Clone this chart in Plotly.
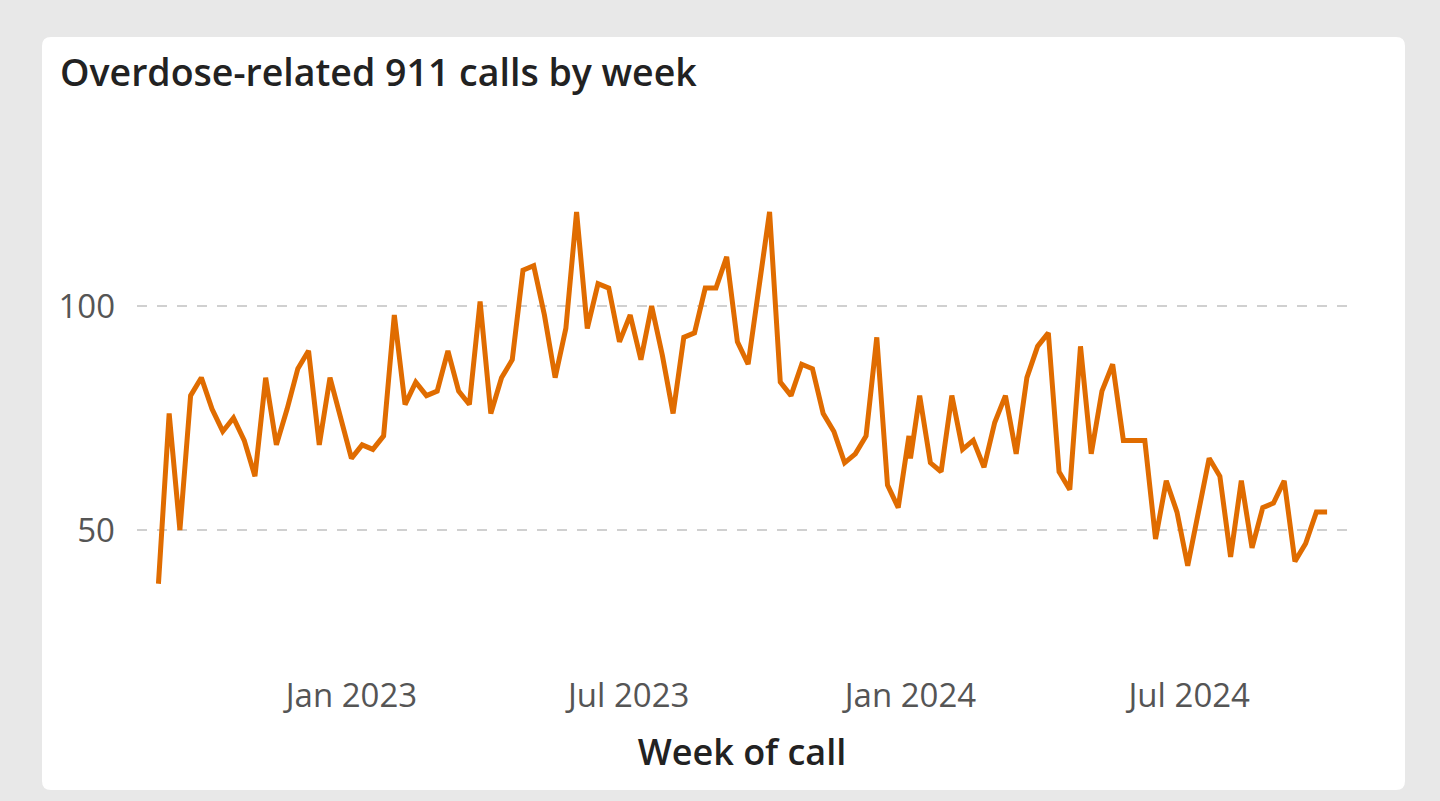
import pandas as pd
import plotly.graph_objects as go

# ---- data ----
weeks_2022_2023 = pd.date_range("2022-08-28", "2023-12-31", freq="7D")
weeks_split = pd.to_datetime(["2024-01-01"])
weeks_2024 = pd.date_range("2024-01-07", periods=39, freq="7D")
week_of_call = list(weeks_2022_2023) + list(weeks_split) + list(weeks_2024)

calls = [
    38, 76, 50, 80, 84, 77, 72, 75, 70, 62,
    84, 69, 77, 86, 90, 69, 84, 75, 66, 69,
    68, 71, 98, 78, 83, 80, 81, 90, 81, 78,
    101, 76, 84, 88, 108, 109, 98, 84, 95, 121,
    95, 105, 104, 92, 98, 88, 100, 89, 76, 93,
    94, 104, 104, 111, 92, 87, 104, 121, 83, 80,
    87, 86, 76, 72, 65, 67, 71, 93, 60, 55,
    71, 66, 80, 65, 63, 80, 68, 70, 64, 74,
    80, 67, 84, 91, 94, 63, 59, 91, 67, 81,
    87, 70, 70, 70, 48, 61, 54, 42, 54, 66,
    62, 44, 61, 46, 55, 56, 61, 43, 47, 54,
    54,
]

x_tick_vals = ["2023-01-01", "2023-07-01", "2024-01-01", "2024-07-01"]
x_tick_text = ["Jan 2023", "Jul 2023", "Jan 2024", "Jul 2024"]
y_tick_vals = [50, 100]

title_text = "Overdose-related 911 calls by week"
x_title = "Week of call"

# ---- layout geometry (pixels) ----
W, H = 1440, 801
PL, PR, PT, PB = 137, 1347, 160, 670   # plot area
card = (42, 37, 1405, 790)             # white card


def px_x(p):
    return (p - PL) / (PR - PL)


def px_y(p):
    return (PB - p) / (PB - PT)


def card_path(x0, y0, x1, y1, r=9):
    ax0, ax1 = px_x(x0), px_x(x1)
    ay0, ay1 = px_y(y0), px_y(y1)
    rx0, rx1 = px_x(x0 + r), px_x(x1 - r)
    ry0, ry1 = px_y(y0 + r), px_y(y1 - r)
    return (
        f"M {rx0},{ay0} L {rx1},{ay0} Q {ax1},{ay0} {ax1},{ry0} "
        f"L {ax1},{ry1} Q {ax1},{ay1} {rx1},{ay1} "
        f"L {rx0},{ay1} Q {ax0},{ay1} {ax0},{ry1} "
        f"L {ax0},{ry0} Q {ax0},{ay0} {rx0},{ay0} Z"
    )


# y scale: 100 at y=306px, 50 at y=530px
ppu = (530 - 306) / 50
y_top = 100 + (306 - PT) / ppu
y_bot = 100 - (PB - 306) / ppu

FONT = "Open Sans"

fig = go.Figure()
fig.add_trace(
    go.Scatter(
        x=week_of_call,
        y=calls,
        mode="lines",
        line=dict(color="#E06C00", width=5),
        hoverinfo="x+y",
    )
)

fig.update_layout(
    width=W,
    height=H,
    margin=dict(l=PL, r=W - PR, t=PT, b=H - PB),
    paper_bgcolor="#E8E8E8",
    plot_bgcolor="rgba(0,0,0,0)",
    showlegend=False,
    font=dict(family=FONT, color="#555555"),
    title=dict(
        text=title_text,
        x=60 / W,
        xref="container",
        xanchor="left",
        y=1 - 73 / H,
        yref="container",
        yanchor="middle",
        font=dict(family=FONT, size=37.5, color="#222222", weight=600),
    ),
    shapes=[
        dict(
            type="path",
            xref="paper",
            yref="paper",
            path=card_path(*card),
            fillcolor="white",
            line=dict(width=0),
            layer="below",
        )
    ],
    xaxis=dict(
        range=["2022-08-14", "2024-10-12"],
        tickvals=x_tick_vals,
        ticktext=x_tick_text,
        showgrid=False,
        zeroline=False,
        showline=False,
        ticks="",
        ticklabelstandoff=3,
        tickfont=dict(family=FONT, size=33, color="#555555"),
        title=dict(
            text=x_title,
            standoff=23,
            font=dict(family=FONT, size=36, color="#222222", weight=600),
        ),
    ),
    yaxis=dict(
        range=[y_bot, y_top],
        tickvals=y_tick_vals,
        showgrid=True,
        gridcolor="#D0D0D0",
        gridwidth=2,
        griddash="10px,10px",
        zeroline=False,
        showline=False,
        ticks="",
        ticklabelstandoff=21,
        tickfont=dict(family=FONT, size=33, color="#555555"),
    ),
)

fig.write_html(
    "out.html",
    config={"displayModeBar": False},
    post_script="document.body.style.margin='0';document.body.style.background='#E8E8E8';",
)
